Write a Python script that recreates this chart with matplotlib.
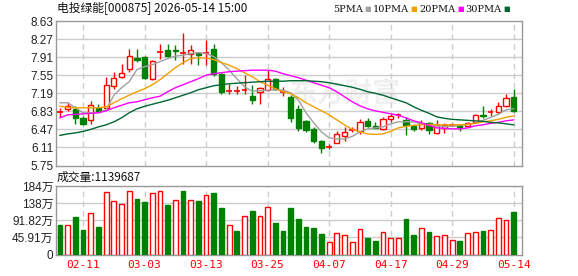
import matplotlib
matplotlib.use('Agg')
import matplotlib.pyplot as plt

# daily candles, 60 trading days up to 2026-05-14
opens = [6.82, 6.88, 6.88, 6.70, 6.65, 6.90, 6.90, 7.33, 7.52, 7.68,
         7.90, 7.92, 7.48, 8.02, 8.05, 8.06, 8.00, 7.98, 8.00, 7.99,
         8.08, 7.58, 7.23, 7.23, 7.25, 7.13, 7.22, 7.26, 7.48, 7.22,
         7.12, 6.88, 6.64, 6.48, 6.24, 6.12, 6.20, 6.34, 6.45, 6.44,
         6.64, 6.53, 6.48, 6.68, 6.75, 6.65, 6.53, 6.50, 6.60, 6.40,
         6.50, 6.56, 6.56, 6.53, 6.62, 6.75, 6.82, 6.82, 6.93, 7.12]
highs = [6.90, 7.02, 6.93, 6.74, 7.03, 6.97, 7.52, 7.62, 7.78, 8.07,
         8.08, 7.94, 7.86, 8.18, 8.18, 8.15, 8.40, 8.15, 8.01, 8.25,
         8.17, 7.60, 7.38, 7.33, 7.55, 7.35, 7.32, 7.65, 7.50, 7.32,
         7.15, 6.95, 6.66, 6.52, 6.26, 6.18, 6.43, 6.51, 6.51, 6.68,
         6.70, 6.62, 6.72, 6.78, 6.79, 6.71, 6.57, 6.65, 6.62, 6.65,
         6.60, 6.60, 6.57, 6.62, 6.77, 6.93, 6.88, 7.02, 7.17, 7.27]
lows = [6.72, 6.84, 6.57, 6.56, 6.57, 6.82, 6.88, 7.28, 7.50, 7.62,
        7.82, 7.48, 7.46, 7.88, 7.92, 7.86, 7.78, 7.78, 7.75, 7.75,
        7.53, 7.18, 7.17, 7.17, 7.18, 6.98, 6.98, 7.24, 7.25, 7.13,
        6.62, 6.44, 6.42, 6.20, 6.00, 6.07, 6.20, 6.23, 6.42, 6.38,
        6.51, 6.49, 6.45, 6.61, 6.70, 6.35, 6.43, 6.46, 6.38, 6.38,
        6.40, 6.53, 6.43, 6.52, 6.60, 6.70, 6.73, 6.79, 6.92, 6.82]
closes = [6.82, 6.93, 6.70, 6.58, 6.96, 6.84, 7.35, 7.50, 7.60, 7.93,
          7.85, 7.50, 7.84, 8.02, 7.94, 8.04, 8.00, 8.05, 7.96, 7.99,
          7.57, 7.22, 7.23, 7.23, 7.25, 7.05, 7.30, 7.48, 7.28, 7.22,
          6.70, 6.50, 6.46, 6.24, 6.10, 6.12, 6.38, 6.41, 6.45, 6.62,
          6.53, 6.50, 6.68, 6.73, 6.75, 6.55, 6.48, 6.60, 6.46, 6.56,
          6.56, 6.56, 6.51, 6.60, 6.75, 6.74, 6.82, 6.93, 7.10, 6.84]

# moving averages
ma5 = [7.00, 7.00, 6.90, 6.80, 6.80, 6.80, 6.86, 7.15, 7.30, 7.42,
       7.66, 7.72, 7.76, 7.82, 7.88, 7.93, 7.95, 7.98, 8.00, 7.98,
       7.92, 7.80, 7.65, 7.48, 7.32, 7.23, 7.24, 7.25, 7.26, 7.25,
       7.20, 7.05, 6.80, 6.60, 6.42, 6.30, 6.28, 6.28, 6.33, 6.42,
       6.48, 6.50, 6.52, 6.58, 6.62, 6.62, 6.62, 6.58, 6.55, 6.54,
       6.53, 6.53, 6.55, 6.57, 6.59, 6.65, 6.71, 6.77, 6.86, 6.88]
ma10 = [6.93, 6.91, 6.90, 6.90, 6.90, 6.90, 6.92, 7.00, 7.08, 7.15,
        7.22, 7.28, 7.36, 7.46, 7.58, 7.70, 7.80, 7.88, 7.90, 7.89,
        7.86, 7.80, 7.75, 7.68, 7.60, 7.52, 7.42, 7.35, 7.28, 7.22,
        7.18, 7.10, 7.00, 6.92, 6.84, 6.76, 6.66, 6.56, 6.47, 6.42,
        6.38, 6.37, 6.38, 6.43, 6.50, 6.53, 6.55, 6.56, 6.57, 6.56,
        6.56, 6.56, 6.56, 6.57, 6.59, 6.62, 6.64, 6.67, 6.71, 6.74]
ma20 = [6.70, 6.76, 6.77, 6.78, 6.79, 6.80, 6.84, 6.90, 6.95, 7.00,
        7.02, 7.06, 7.10, 7.13, 7.22, 7.30, 7.36, 7.42, 7.48, 7.55,
        7.58, 7.60, 7.62, 7.63, 7.64, 7.65, 7.65, 7.65, 7.63, 7.58,
        7.54, 7.50, 7.45, 7.40, 7.35, 7.30, 7.22, 7.12, 7.02, 6.94,
        6.88, 6.84, 6.81, 6.78, 6.75, 6.70, 6.64, 6.60, 6.55, 6.50,
        6.49, 6.48, 6.48, 6.50, 6.54, 6.56, 6.59, 6.61, 6.64, 6.66]
ma30 = [6.35, 6.38, 6.40, 6.43, 6.47, 6.52, 6.56, 6.62, 6.70, 6.80,
        6.88, 6.93, 6.97, 7.01, 7.05, 7.10, 7.15, 7.20, 7.26, 7.30,
        7.34, 7.36, 7.38, 7.39, 7.40, 7.41, 7.42, 7.43, 7.43, 7.43,
        7.44, 7.44, 7.44, 7.43, 7.42, 7.40, 7.37, 7.34, 7.31, 7.27,
        7.22, 7.19, 7.15, 7.10, 7.05, 7.00, 6.92, 6.85, 6.79, 6.72,
        6.69, 6.67, 6.66, 6.65, 6.64, 6.63, 6.61, 6.60, 6.58, 6.56]

# volume in 万 shares, and whether the bar is drawn red (up)
volume = [80, 78, 100, 67, 111, 73, 167, 144, 135, 171,
          150, 141, 165, 171, 134, 147, 171, 147, 144, 160,
          166, 126, 80, 64, 104, 117, 104, 127, 85, 62,
          126, 96, 75, 72, 56, 34, 58, 53, 34, 69,
          45, 37, 61, 43, 45, 96, 53, 71, 59, 50,
          53, 39, 37, 58, 61, 64, 66, 98, 93, 113.97]
vol_up = [0, 1, 0, 0, 1, 0, 1, 1, 1, 1,
          0, 0, 1, 1, 0, 1, 0, 1, 0, 1,
          0, 0, 1, 0, 1, 0, 1, 1, 0, 0,
          0, 0, 0, 0, 0, 1, 1, 1, 1, 1,
          0, 0, 1, 1, 1, 0, 0, 1, 0, 1,
          1, 1, 0, 1, 1, 0, 1, 1, 1, 0]

tick_pos = [3, 11, 19, 27, 35, 43, 51, 59]
tick_labels = ['02-11', '03-03', '03-13', '03-25', '04-07', '04-17', '04-29', '05-14']
price_ticks = [5.75, 6.11, 6.47, 6.83, 7.19, 7.55, 7.91, 8.27, 8.63]
vol_ticks = [0, 45.91, 91.82, 137.73, 183.64]
vol_tick_labels = ['0', '45.91万', '91.82万', '138万', '184万']

RED = '#ff0000'
GREEN = '#008000'
cjk = ['Liberation Sans', 'Noto Sans CJK SC']

fig = plt.figure(figsize=(5.78, 2.76), dpi=100)
ax = fig.add_axes([56 / 578, (276 - 165.5) / 276, 466 / 578, 144.5 / 276])
axv = fig.add_axes([56 / 578, (276 - 254.5) / 276, 466 / 578, 68.5 / 276])

# candles
n = len(closes)
x = list(range(n))
for i in range(n):
    o, h, l, c = opens[i], highs[i], lows[i], closes[i]
    col = RED if c >= o else GREEN
    ax.vlines(i, l, h, color=col, lw=1, zorder=3)
    if abs(c - o) < 0.005:
        ax.hlines(c, i - 0.36, i + 0.36, color=col, lw=1.2, zorder=4)
    elif c > o:
        ax.bar(i, c - o, 0.68, bottom=o, facecolor='white', edgecolor=RED, lw=1, zorder=4)
    else:
        ax.bar(i, o - c, 0.68, bottom=c, facecolor=GREEN, edgecolor=GREEN, lw=1, zorder=4)

ax.plot(x, ma5, color='#a0a0a0', lw=1, zorder=5)
ax.plot(x, ma10, color='#f0a000', lw=1, zorder=5)
ax.plot(x, ma20, color='#ff00ff', lw=1, zorder=5)
ax.plot(x, ma30, color='#006633', lw=1, zorder=5)

# volume bars
for i in range(n):
    if vol_up[i]:
        axv.bar(i, volume[i], 0.62, facecolor='white', edgecolor=RED, lw=1, zorder=3)
    else:
        axv.bar(i, volume[i], 0.62, facecolor=GREEN, edgecolor=GREEN, lw=1, zorder=3)

for a in (ax, axv):
    a.set_xlim(-0.52, 60.08)
    for s in a.spines.values():
        s.set_color('#999999')
        s.set_linewidth(1)
    for p in tick_pos:
        a.axvline(p, color='#cccccc', lw=1, ls=(0, (4, 3)), zorder=1)
    a.tick_params(length=0, pad=2)

ax.set_ylim(5.75, 8.63)
ax.set_yticks(price_ticks)
ax.set_yticklabels(['%.2f' % v for v in price_ticks], fontsize=8.5, color='#222222',
                   family='Liberation Sans')
for v in price_ticks[1:-1]:
    ax.axhline(v, color='#cccccc', lw=1, zorder=1)
ax.set_xticks([])

axv.set_ylim(0, 183.64)
axv.set_yticks(vol_ticks)
axv.set_yticklabels(vol_tick_labels, fontsize=8.5, color='#222222', family=cjk)
for v in vol_ticks[1:-1]:
    axv.axhline(v, color='#cccccc', lw=1, zorder=1)
axv.set_xticks(tick_pos)
axv.set_xticklabels(tick_labels, fontsize=8, color=RED, family='DejaVu Sans Mono')
axv.tick_params(axis='x', pad=4)

# watermark
ax.text(0.62, 0.5, '东方财富', transform=ax.transAxes, fontsize=20, color='#f0f0f0',
        family='Noto Sans CJK SC', weight='bold', ha='center', va='center', zorder=0)

# header and legend
fig.text(57 / 578, 1 - 9 / 276, '电投绿能[000875] 2026-05-14 15:00', fontsize=8.5,
         family=['Noto Sans CJK SC', 'DejaVu Sans'], va='center', color='#111111')
legend = [('5PMA', 363, 367.5, '#a0a0a0'), ('10PMA', 409, 413.5, '#f0a000'),
          ('20PMA', 455, 460.5, '#ff00ff'), ('30PMA', 501, 506.5, '#006633')]
for name, tx, sx, col in legend:
    fig.text(tx / 578, 1 - 9 / 276, name, fontsize=7, family='DejaVu Serif',
             va='center', ha='right', color='#111111')
    fig.text(sx / 578, 1 - 9 / 276, '■', fontsize=5, color=col, va='center',
             ha='center', family='DejaVu Sans')

fig.text(57 / 578, 1 - 177 / 276, '成交量:1139687', fontsize=8.5,
         family=['Noto Sans CJK SC', 'DejaVu Sans'], va='center', color='#111111')

fig.savefig('out.png', dpi=100)
